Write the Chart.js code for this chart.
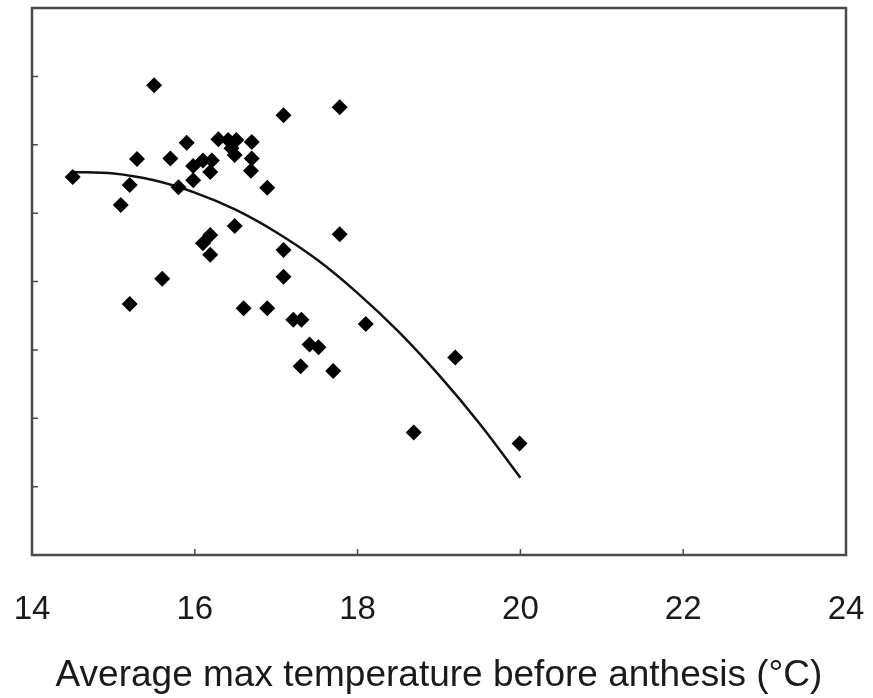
<!DOCTYPE html>
<html>
<head>
<meta charset="utf-8">
<script src="https://cdn.jsdelivr.net/npm/chart.js@4.4.1/dist/chart.umd.min.js"></script>
<style>
  html, body { margin: 0; padding: 0; background: #fff; }
  #wrap { width: 873px; height: 698px; }
</style>
</head>
<body>
<div id="wrap"><canvas id="tempChart" width="873" height="698"></canvas></div>
<script>
// observed points (average max temp, response on an unlabeled 0-8 axis)
var tempX = [14.50, 15.50, 15.29, 15.20, 15.09, 15.20, 15.60, 15.70, 15.80, 15.90,
             15.98, 15.98, 16.10, 16.21, 16.19, 16.29, 16.41, 16.51, 16.45, 16.49,
             16.70, 16.70, 16.69, 16.89, 17.09, 17.78, 16.49, 16.19, 16.10, 16.19,
             17.78, 17.09, 17.09, 16.60, 16.89, 17.21, 17.31, 17.41, 17.52, 17.30,
             17.70, 18.10, 19.20, 18.69, 19.99];
var respY = [5.53, 6.87, 5.79, 5.41, 5.12, 3.67, 4.04, 5.80, 5.38, 6.03,
             5.69, 5.48, 5.77, 5.77, 5.60, 6.08, 6.07, 6.07, 5.95, 5.85,
             6.04, 5.80, 5.62, 5.37, 6.43, 6.55, 4.81, 4.68, 4.56, 4.39,
             4.69, 4.46, 4.07, 3.61, 3.61, 3.44, 3.44, 3.08, 3.04, 2.76,
             2.69, 3.38, 2.89, 1.79, 1.63];

// fitted curve
var fitX = [14.5, 15.0, 15.5, 16.0, 16.5, 17.0, 17.5, 18.0, 18.5, 19.0, 19.5, 20.0];
var fitY = [5.60, 5.58, 5.48, 5.30, 5.05, 4.72, 4.32, 3.83, 3.27, 2.63, 1.92, 1.13];

var xTicks = [14, 16, 18, 20, 22, 24];
var yTicks = [1, 2, 3, 4, 5, 6, 7];

var frameColor = '#4a4a4a';

var points = tempX.map(function(x, i) { return { x: x, y: respY[i] }; });
var curve = fitX.map(function(x, i) { return { x: x, y: fitY[i] }; });

// box around the plot with short inward ticks
var framePlugin = {
    id: 'frame',
    beforeDatasetsDraw: function(chart) {
        var ctx = chart.ctx;
        var a = chart.chartArea;
        var xs = chart.scales.x, ys = chart.scales.y;
        ctx.save();
        ctx.strokeStyle = frameColor;
        ctx.lineWidth = 2.5;
        ctx.strokeRect(a.left, a.top, a.right - a.left, a.bottom - a.top);
        ctx.lineWidth = 1.5;
        ctx.beginPath();
        xTicks.slice(1, -1).forEach(function(v) {
            var px = xs.getPixelForValue(v);
            ctx.moveTo(px, a.bottom);
            ctx.lineTo(px, a.bottom - 6);
        });
        yTicks.forEach(function(v) {
            var py = ys.getPixelForValue(v);
            ctx.moveTo(a.left, py);
            ctx.lineTo(a.left + 6, py);
        });
        ctx.stroke();
        ctx.restore();
    }
};

var ctx = document.getElementById('tempChart').getContext('2d');
var chart = new Chart(ctx, {
    type: 'scatter',
    data: {
        datasets: [{
            label: 'observed',
            data: points,
            pointStyle: 'rectRot',
            pointRadius: 8,
            pointBackgroundColor: '#000',
            pointBorderWidth: 0,
            showLine: false
        }, {
            label: 'fit',
            data: curve,
            showLine: true,
            borderColor: '#111',
            borderWidth: 2.5,
            pointRadius: 0,
            tension: 0.4,
            cubicInterpolationMode: 'monotone',
            fill: false
        }]
    },
    options: {
        responsive: false,
        animation: false,
        layout: { padding: { top: 8, right: 27, left: 0, bottom: 0 } },
        plugins: {
            legend: { display: false },
            tooltip: { enabled: false }
        },
        scales: {
            x: {
                type: 'linear',
                min: 14,
                max: 24,
                afterFit: function(scale) {
                    scale.height = 143;
                    scale.paddingLeft = 0;
                    scale.paddingRight = 0;
                },
                afterBuildTicks: function(scale) {
                    scale.ticks = xTicks.map(function(v) { return { value: v }; });
                },
                grid: { display: false, drawTicks: false },
                border: { display: false },
                ticks: {
                    padding: 35,
                    maxRotation: 0,
                    color: '#1a1a1a',
                    font: { family: 'Liberation Sans, Arial, sans-serif', size: 33 }
                },
                title: {
                    display: true,
                    text: 'Average max temperature before anthesis (°C)',
                    color: '#1a1a1a',
                    padding: { top: 0, bottom: 0 },
                    font: { family: 'Liberation Sans, Arial, sans-serif', size: 37 }
                }
            },
            y: {
                min: 0,
                max: 8,
                afterFit: function(scale) {
                    scale.width = 32;
                    scale.paddingTop = 0;
                    scale.paddingBottom = 0;
                },
                grid: { display: false, drawTicks: false },
                border: { display: false },
                ticks: { display: false, stepSize: 1 }
            }
        }
    },
    plugins: [framePlugin]
});
</script>
</body>
</html>
